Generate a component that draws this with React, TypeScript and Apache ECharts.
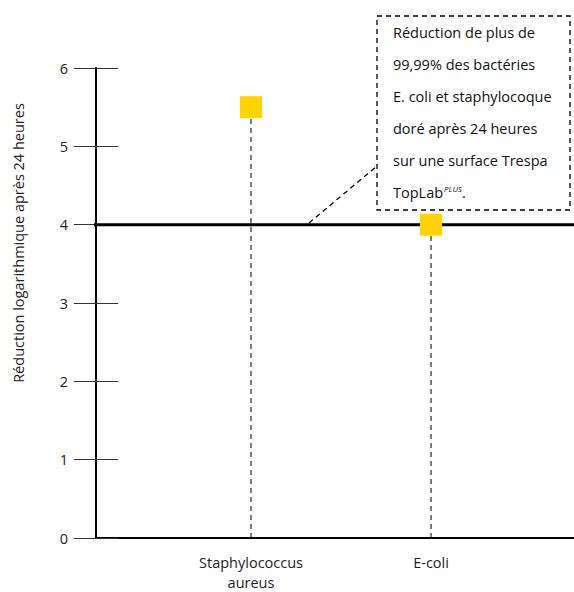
import React, { useEffect, useRef } from "react";
import * as echarts from "echarts";

const categories = ["Staphylococcus\naureus", "E-coli"];
const reductionValues = [5.5, 4.0];
const thresholdValue = 4;
const yTicks = [0, 1, 2, 3, 4, 5, 6];
const yAxisTitle = "Réduction logarithmique après 24 heures";
const noteLines = [
  "Réduction de plus de",
  "99,99% des bactéries",
  "E. coli et staphylocoque",
  "doré après 24 heures",
  "sur une surface Trespa",
];

const FONT = "'Open Sans', sans-serif";
const FS = 14.5;

export default function App() {
  const ref = useRef<HTMLDivElement>(null);
  useEffect(() => {
    if (!ref.current) return;
    const chart = echarts.init(ref.current, null, { renderer: "svg" });
    const xMin = -0.861;
    const xMax = 1.794;
    const xLeftTick = -0.983;
    const points = categories.map((_, i) => [i, reductionValues[i]]);
    const yAxisBase = {
      type: "value",
      min: yTicks[0],
      max: yTicks[yTicks.length - 1],
      interval: 1,
      position: "left",
      splitLine: { show: false },
    };
    const dropLines = points.map((p) => ({
      type: "line",
      data: [
        [p[0], 0],
        [p[0], p[1]],
      ],
      symbol: "none",
      silent: true,
      lineStyle: { color: "#000", width: 1, type: [5, 4] },
      z: 2,
    }));
    chart.setOption({
      animation: false,
      textStyle: { fontFamily: FONT },
      grid: { left: 96, right: 0, top: 68, bottom: 51, containLabel: false },
      xAxis: {
        type: "value",
        min: xMin,
        max: xMax,
        axisLine: { show: true, onZero: false, lineStyle: { color: "#000", width: 2 } },
        axisTick: { show: false },
        splitLine: { show: false },
        axisLabel: {
          customValues: categories.map((_, i) => i),
          formatter: (v: number) => categories[Math.round(v)] ?? "",
          color: "#222",
          fontSize: FS,
          lineHeight: 20,
          margin: 14,
          fontFamily: FONT,
        },
      },
      yAxis: [
        {
          ...yAxisBase,
          name: yAxisTitle,
          nameLocation: "middle",
          nameGap: 70,
          nameRotate: 90,
          nameTextStyle: { color: "#222", fontSize: FS, fontFamily: FONT, padding: [0, 0, 0, 120] },
          axisLine: { show: true, onZero: false, lineStyle: { color: "#000", width: 2 } },
          axisTick: { show: true, inside: false, length: 22, lineStyle: { color: "#333", width: 1 } },
          axisLabel: { color: "#222", fontSize: FS, margin: 28, fontFamily: FONT },
        },
        {
          ...yAxisBase,
          axisLine: { show: false, onZero: false },
          axisTick: { show: true, inside: true, length: 22, lineStyle: { color: "#333", width: 1 } },
          axisLabel: { show: false },
        },
      ],
      series: [
        ...dropLines,
        {
          type: "line",
          data: [
            [xLeftTick, thresholdValue],
            [xMax, thresholdValue],
          ],
          clip: false,
          symbol: "none",
          silent: true,
          lineStyle: { color: "#000", width: 3 },
          z: 3,
        },
        {
          type: "scatter",
          data: points,
          symbol: "rect",
          symbolSize: 22,
          clip: false,
          itemStyle: { color: "#FFD200", opacity: 1 },
          z: 10,
        },
      ],
      graphic: [
        {
          type: "rect",
          shape: { x: 377, y: 16, width: 193, height: 194 },
          style: { fill: "none", stroke: "#000", lineWidth: 1.3, lineDash: [5, 4] },
        },
        {
          type: "line",
          shape: { x1: 309, y1: 223, x2: 377, y2: 166 },
          style: { stroke: "#000", lineWidth: 1.3, lineDash: [5, 4] },
        },
        {
          type: "text",
          x: 393,
          y: 16,
          style: {
            text:
              noteLines.map((l) => `{n|${l}}`).join("\n") +
              "\n{n|TopLab}{s|PLUS}{n|.}",
            fill: "#111",
            rich: {
              n: { fontSize: FS, lineHeight: 32, fontFamily: FONT, fill: "#111" },
              s: { fontSize: 8, fontStyle: "italic", fontFamily: FONT, fill: "#111", verticalAlign: "top", padding: [8, 0, 0, 1], lineHeight: 32 },
            },
          },
        },
      ],
    });
    return () => chart.dispose();
  }, []);
  return <div ref={ref} style={{ width: 574, height: 592, position: "absolute", left: 0, top: 0 }} />;
}
